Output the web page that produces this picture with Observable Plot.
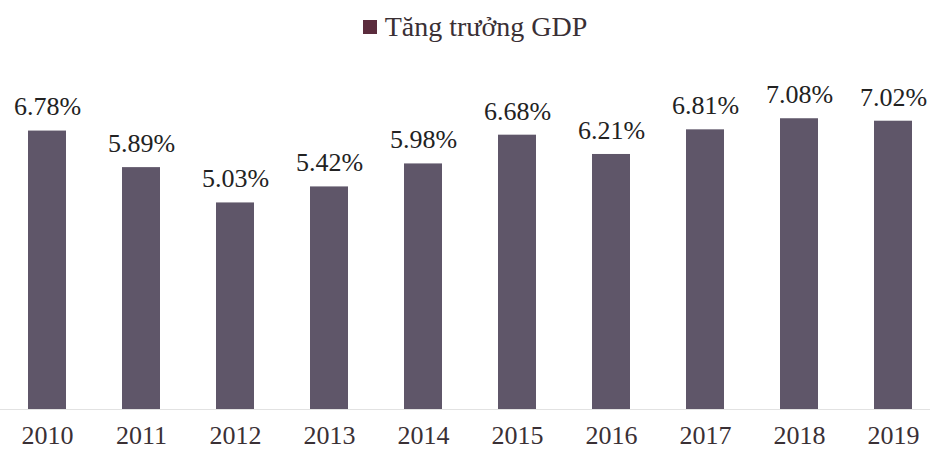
<!DOCTYPE html>
<html>
<head>
<meta charset="utf-8">
<script src="https://cdn.jsdelivr.net/npm/d3@7"></script>
<script src="https://cdn.jsdelivr.net/npm/@observablehq/plot@0.6"></script>
<style>
  html, body { margin: 0; padding: 0; background: #fff; }
  #legend { height: 55px; display: flex; justify-content: center; align-items: center; font-family: "Liberation Serif", serif; font-size: 28px; color: #3a3035; box-sizing: border-box; }
  #legend .sw { width: 14px; height: 14px; background: #5b2c3d; display: inline-block; margin-right: 8px; }
  #legend .row { display: flex; align-items: center; margin-top: -2px; margin-left: 20px; line-height: 1; }
</style>
</head>
<body>
<div id="legend"><div class="row"><span class="sw"></span><span>Tăng trưởng GDP</span></div></div>
<div id="chart"></div>
<script>
const years = ["2010","2011","2012","2013","2014","2015","2016","2017","2018","2019"];
const growth = [6.78, 5.89, 5.03, 5.42, 5.98, 6.68, 6.21, 6.81, 7.08, 7.02];
const labels = ["6.78%","5.89%","5.03%","5.42%","5.98%","6.68%","6.21%","6.81%","7.08%","7.02%"];

const data = years.map((y, i) => ({year: y, value: growth[i], label: labels[i]}));

const chart = Plot.plot({
  width: 930,
  height: 397,
  marginLeft: 0,
  marginRight: 0,
  marginTop: 46,
  marginBottom: 43,
  style: {fontFamily: "Liberation Serif, serif", background: "#fff", color: "#333"},
  x: {domain: years, range: [-1, 940], paddingInner: 0.6, paddingOuter: 0.3, label: null},
  y: {domain: [0, 7.5], axis: null},
  marks: [
    Plot.ruleY([0], {stroke: "#e2e2e2", strokeWidth: 1}),
    Plot.barY(data, {x: "year", y: "value", fill: "#5f5669"}),
    Plot.text(data, {x: "year", y: "value", text: "label", dy: -24, fontSize: 26, fill: "#222", lineAnchor: "middle", fontFamily: "Liberation Serif, serif"}),
    Plot.axisX({tickSize: 0, tickPadding: 16, fontSize: 26, label: null, fill: "#3a3035"})
  ]
});
document.getElementById("chart").appendChild(chart);
</script>
</body>
</html>
